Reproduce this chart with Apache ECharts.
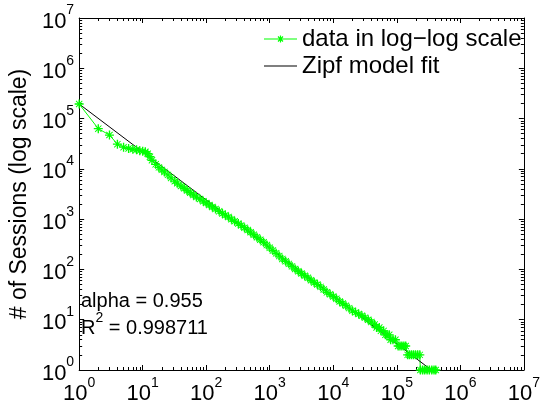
<!DOCTYPE html>
<html>
<head>
<meta charset="utf-8">
<script src="https://cdn.jsdelivr.net/npm/echarts@6/dist/echarts.min.js"></script>
<style>
  html, body { margin: 0; padding: 0; background: #fff; }
  #chart { width: 543px; height: 411px; }
</style>
</head>
<body>
<div id="chart"></div>
<script>
// rank of each item and its session count
const ranks = [
  1, 2, 3, 4, 5, 6, 7, 8, 9, 10, 11, 12, 13, 14, 16, 18, 20, 22, 25, 28,
  32, 35, 40, 45, 50, 56, 63, 70, 80, 90, 100, 112, 125, 140, 160, 180, 200, 224, 250, 280,
  320, 355, 400, 450, 500, 560, 630, 710, 800, 900, 1000, 1120, 1260, 1410, 1580, 1780, 2000, 2240, 2510, 2820,
  3160, 3550, 3980, 4470, 5010, 5620, 6310, 7080, 7940, 8910, 10000, 11200, 12600, 14100, 15800, 17800, 20000, 22400, 25100, 28200,
  31600, 35500, 39800, 44700, 48000, 53000, 56200, 62000, 66000, 70000, 76000, 80000, 87000, 95000,
  105000, 112000, 120000, 129000, 138000, 148000, 158000, 170000, 183000, 197000, 213000, 230000,
  235000, 255000, 275000, 300000, 325000, 355000, 385000, 410000
];
const sessions = [
  195000, 63000, 47000, 31000, 27000, 25500, 24500, 24000, 23000, 22500, 21900, 20000, 17400, 14800, 12300, 10700, 9550, 8700, 7590, 6610,
  5690, 5190, 4570, 4120, 3720, 3350, 3020, 2750, 2510, 2280, 2090, 1910, 1740, 1590, 1430, 1300, 1200, 1100, 1000, 910,
  820, 750, 676, 610, 550, 490, 437, 389, 347, 305, 269, 237, 209, 184, 162, 145, 129, 115, 102, 92,
  83, 75, 68, 61, 55, 50, 45, 40, 35, 32, 29, 26, 23, 21, 19, 17, 15, 14, 13, 12,
  11, 10, 9, 8, 7, 7, 6, 6, 5, 5, 5, 4, 4, 4,
  3, 3, 3, 3, 3, 2, 2, 2, 2, 2, 2, 2,
  1, 1, 1, 1, 1, 1, 1, 1
];

// Zipf fit: straight line in log-log space between its two ends
const fitRanks = [1, 350000];
const fitSessions = [195000, 1];

const decadeExps = [0, 1, 2, 3, 4, 5, 6, 7];
const minorSteps = [2, 3, 4, 5, 6, 7, 8, 9];
const seriesNames = ['data in log\u2212log scale', 'Zipf model fit'];
const yTitle = '# of Sessions (log scale)';
const alphaValue = '0.955';
const r2Value = '0.998711';

const FONT = 'Liberation Sans';
const GREEN = '#00ff00';
const STAR = 'path://M0 8.5L20 8.5L20 11.5L0 11.5Z M8.5 0L11.5 0L11.5 20L8.5 20Z ' +
  'M3.75 2.25L17.75 16.25L16.25 17.75L2.25 3.75Z M17.75 3.75L3.75 17.75L2.25 16.25L16.25 2.25Z';
// legend icons: thin line with a star in the middle, and a plain thin line
const LEGEND_STAR_LINE = 'path://M0 3.6L33 3.6L33 4.4L0 4.4Z M15.9 0.5L17.1 0.5L17.1 7.5L15.9 7.5Z ' +
  'M14.42 1.08L19.42 6.08L18.58 6.92L13.58 1.92Z M19.42 1.92L14.42 6.92L13.58 6.08L18.58 1.08Z';
const LEGEND_LINE = 'path://M0 0L33 0L33 1.1L0 1.1Z';

const majorTicks = decadeExps.map(e => Math.pow(10, e));
const minorTicks = [];
decadeExps.slice(0, -1).forEach(e => {
  minorSteps.forEach(m => minorTicks.push(m * Math.pow(10, e)));
});

const tickLabel = (margin) => ({
  show: true,
  customValues: majorTicks,
  margin: margin,
  formatter: v => '{b|10}{s|' + Math.round(Math.log10(v)) + '}',
  rich: {
    b: { fontSize: 22, fontFamily: FONT, color: '#000', lineHeight: 29, verticalAlign: 'bottom' },
    s: { fontSize: 14, fontFamily: FONT, color: '#000', lineHeight: 14, verticalAlign: 'top' }
  }
});

// one axis for line + major ticks, one for minor ticks, on every side of the box
const makeAxis = (position, minor, label) => ({
  type: 'log',
  logBase: 10,
  min: 1,
  max: 1e7,
  position: position,
  axisLine: { show: !minor, lineStyle: { color: '#000', width: 1 } },
  axisTick: {
    show: true,
    inside: true,
    length: minor ? 3 : 5,
    customValues: minor ? minorTicks : majorTicks,
    lineStyle: { color: '#000', width: 1 }
  },
  axisLabel: label || { show: false },
  splitLine: { show: false },
  minorTick: { show: false }
});

const yMain = makeAxis('left', false, tickLabel(5));
yMain.name = yTitle;
yMain.nameLocation = 'middle';
yMain.nameGap = 42;
yMain.nameTextStyle = { fontSize: 23, fontFamily: FONT, color: '#000' };

const plain = { fontSize: 20, fontFamily: FONT, fontWeight: 'normal', color: '#000' };

const chart = echarts.init(document.getElementById('chart'));
chart.setOption({
  animation: false,
  backgroundColor: '#fff',
  grid: { left: 77, right: 14, top: 18, bottom: 41 },
  title: {
    text: '{a|alpha = ' + alphaValue + '}\n{b|R}{s|2}{b| = ' + r2Value + '}',
    left: 81,
    top: 287,
    padding: 0,
    textStyle: {
      fontWeight: 'normal',
      rich: {
        a: Object.assign({}, plain, { lineHeight: 24, verticalAlign: 'bottom' }),
        b: Object.assign({}, plain, { lineHeight: 27, verticalAlign: 'bottom' }),
        s: Object.assign({}, plain, { fontSize: 14, lineHeight: 14, verticalAlign: 'top' })
      }
    }
  },
  legend: {
    data: [
      { name: seriesNames[0], icon: LEGEND_STAR_LINE },
      { name: seriesNames[1], icon: LEGEND_LINE }
    ],
    orient: 'vertical',
    left: 264,
    top: 26,
    padding: 0,
    itemGap: 1,
    itemWidth: 33,
    itemHeight: 8,
    textStyle: { fontSize: 24, fontFamily: FONT, color: '#000', lineHeight: 26 }
  },
  xAxis: [
    makeAxis('bottom', false, tickLabel(6)),
    makeAxis('bottom', true),
    makeAxis('top', false),
    makeAxis('top', true)
  ],
  yAxis: [
    yMain,
    makeAxis('left', true),
    makeAxis('right', false),
    makeAxis('right', true)
  ],
  series: [
    {
      name: seriesNames[0],
      type: 'line',
      xAxisIndex: 0,
      yAxisIndex: 0,
      data: ranks.map((r, i) => [r, sessions[i]]),
      symbol: STAR,
      symbolSize: 9,
      lineStyle: { color: GREEN, width: 1 },
      itemStyle: { color: GREEN },
      emphasis: { disabled: true }
    },
    {
      name: seriesNames[1],
      type: 'line',
      xAxisIndex: 0,
      yAxisIndex: 0,
      data: fitRanks.map((r, i) => [r, fitSessions[i]]),
      symbol: 'none',
      lineStyle: { color: '#000', width: 1 },
      itemStyle: { color: '#000' },
      emphasis: { disabled: true }
    }
  ]
});
</script>
</body>
</html>
